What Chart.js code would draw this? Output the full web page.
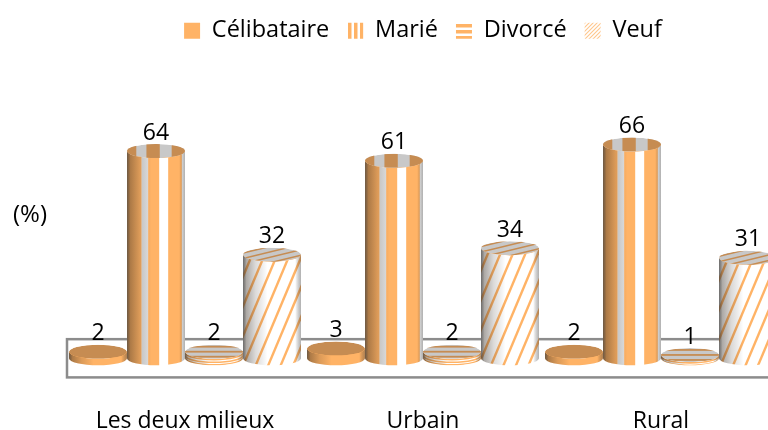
<!DOCTYPE html>
<html><head><meta charset="utf-8">
<script src="https://cdn.jsdelivr.net/npm/chart.js@4"></script>
<style>html,body{margin:0;padding:0;background:#fff;width:768px;height:430px;overflow:hidden}canvas{display:block}</style>
</head><body><canvas id="c" width="848" height="465"></canvas>
<script>
const categories = ["Les deux milieux", "Urbain", "Rural"];
const seriesNames = ["Célibataire", "Marié", "Divorcé", "Veuf"];
const celibataire = [2, 3, 2];
const marie = [64, 61, 66];
const divorce = [2, 2, 1];
const veuf = [32, 34, 31];
const unitLabel = "(%)";

const ORANGE = "#FFB366", BROWN = "#C68C52", GRAY = "#C8C8C8";
const FONT = "'Open Sans', Lato, sans-serif";

function tile(w, h, draw) {
  const c = document.createElement("canvas"); c.width = w; c.height = h;
  const g = c.getContext("2d"); g.fillStyle = "#fff"; g.fillRect(0, 0, w, h);
  g.fillStyle = ORANGE; g.strokeStyle = ORANGE; draw(g);
  return document.createElement("canvas").getContext("2d").createPattern(c, "repeat");
}
const swatches = [
  ORANGE,
  tile(6, 6, g => g.fillRect(0, 0, 3.5, 6)),
  tile(6, 6, g => g.fillRect(0, 0, 6, 3.5)),
  tile(4, 4, g => { g.globalAlpha = .75; g.lineWidth = 1.1; g.beginPath(); g.moveTo(-1, 1); g.lineTo(1, -1); g.moveTo(-1, 5); g.lineTo(5, -1); g.moveTo(3, 5); g.lineTo(5, 3); g.stroke(); })
];

function sidePath(ctx, x, y, base, rx, ry) {
  ctx.beginPath();
  ctx.moveTo(x - rx, y);
  ctx.lineTo(x - rx, base);
  ctx.ellipse(x, base, rx, ry, 0, Math.PI, 0, true);
  ctx.lineTo(x + rx, y);
  ctx.ellipse(x, y, rx, ry, 0, 0, Math.PI, false);
  ctx.closePath();
}

const sideStyles = [
  (ctx, x, y, base, rx, ry) => { ctx.fillStyle = ORANGE; ctx.fillRect(x - rx - 1, y - ry, 2 * rx + 2, base - y + 2 * ry + 2); },
  (ctx, x, y, base, rx, ry) => {
    const w = 2 * rx, top = y - ry, h = base - y + 2 * ry + 2, l = x - rx;
    ctx.fillStyle = "#fff"; ctx.fillRect(l - 1, top, w + 2, h);
    ctx.fillStyle = "#E2E2E2"; ctx.fillRect(l + w * .25, top, w * .115, h);
    ctx.fillStyle = ORANGE;
    [[0, .25], [.365, .555], [.71, .945]].forEach(([a, b]) => ctx.fillRect(l + w * a, top, w * (b - a), h));
  },
  (ctx, x, y, base, rx, ry) => {
    ctx.fillStyle = "#fff"; ctx.fillRect(x - rx - 1, y - ry, 2 * rx + 2, base - y + 2 * ry + 2);
    ctx.strokeStyle = ORANGE; ctx.lineWidth = 1.6;
    for (let k = 0; k < 6; k++) {
      ctx.beginPath(); ctx.ellipse(x, y + 2.6 * k + .8, rx, ry, 0, 0, Math.PI); ctx.stroke();
    }
  },
  (ctx, x, y, base, rx, ry) => {
    ctx.fillStyle = "#fff"; ctx.fillRect(x - rx - 1, y - ry, 2 * rx + 2, base - y + 2 * ry + 2);
    ctx.strokeStyle = ORANGE; ctx.lineWidth = 2.4;
    const span = base - y + 2 * ry + 4, run = span * .42;
    for (let dx = -run - 12; dx < 2 * rx + 12; dx += 12.5) {
      ctx.beginPath();
      ctx.moveTo(x - rx + dx, base + ry + 2);
      ctx.lineTo(x - rx + dx + run, y - ry - 2);
      ctx.stroke();
    }
  }
];

const topStyles = [
  (ctx, x, y, rx, ry) => { ctx.fillStyle = BROWN; ctx.fill(); },
  (ctx, x, y, rx, ry) => {
    ctx.fillStyle = GRAY; ctx.fill(); ctx.fillStyle = BROWN;
    const w = 2 * rx, l = x - rx;
    [[0, .16], [.335, .565], [.77, 1]].forEach(([a, b]) => ctx.fillRect(l + w * a, y - ry, w * (b - a), 2 * ry));
  },
  (ctx, x, y, rx, ry) => {
    ctx.fillStyle = GRAY; ctx.fill(); ctx.fillStyle = BROWN;
    for (let d = -ry + 1; d < ry; d += 5) ctx.fillRect(x - rx, y + d, 2 * rx, 1.8);
  },
  (ctx, x, y, rx, ry) => {
    ctx.fillStyle = GRAY; ctx.fill(); ctx.strokeStyle = BROWN; ctx.lineWidth = 1.5;
    for (let d = -2 * ry; d < 3 * ry; d += 5.4) {
      ctx.beginPath(); ctx.moveTo(x - rx, y + d + 7); ctx.lineTo(x + rx, y + d - 7); ctx.stroke();
    }
  }
];

const cylinders = {
  id: "cylinders",
  beforeDraw(chart) {
    const { ctx, chartArea: a, scales: { y } } = chart;
    ctx.save();
    ctx.strokeStyle = "#8C8C8C"; ctx.lineWidth = 2.5;
    const t = y.getPixelForValue(5.9);
    ctx.strokeRect(a.left + 1, t, a.right - a.left, a.bottom - t);
    ctx.fillStyle = "#000"; ctx.font = "24px " + FONT;
    ctx.textAlign = "left"; ctx.textBaseline = "middle";
    ctx.fillText(unitLabel, 13, (a.top + a.bottom) / 2);
    ctx.restore();
  },
  afterDatasetsDraw(chart) {
    const { ctx } = chart, ry = 7;
    ctx.save();
    chart.data.datasets.forEach((ds, i) => {
      chart.getDatasetMeta(i).data.forEach((el, j) => {
        const { x, y, base, width } = el.getProps(["x", "y", "base", "width"], true);
        const rx = width / 2;
        ctx.save();
        sidePath(ctx, x, y, base, rx, ry); ctx.clip();
        sideStyles[i](ctx, x, y, base, rx, ry);
        const g = ctx.createLinearGradient(x - rx, 0, x + rx, 0);
        g.addColorStop(0, "rgba(60,60,60,.75)");
        g.addColorStop(.06, "rgba(40,30,20,.38)");
        g.addColorStop(.22, "rgba(40,30,20,.16)");
        g.addColorStop(.42, "rgba(0,0,0,0)");
        g.addColorStop(.90, "rgba(0,0,0,0)");
        g.addColorStop(1, "rgba(60,60,60,.40)");
        ctx.fillStyle = g; ctx.fillRect(x - rx - 1, y - ry, width + 2, base - y + 2 * ry + 2);
        ctx.restore();
        ctx.save();
        ctx.beginPath(); ctx.ellipse(x, y, rx, ry, 0, 0, 2 * Math.PI); ctx.clip();
        topStyles[i](ctx, x, y, rx, ry);
        ctx.restore();
      });
    });
    ctx.fillStyle = "#000"; ctx.font = "23px " + FONT;
    ctx.textAlign = "center"; ctx.textBaseline = "middle";
    chart.data.datasets.forEach((ds, i) => {
      chart.getDatasetMeta(i).data.forEach((el, j) => ctx.fillText(String(ds.data[j]), el.x, el.y - 18));
    });
    ctx.restore();
  }
};

new Chart(document.getElementById("c"), {
  type: "bar",
  data: {
    labels: categories,
    datasets: [celibataire, marie, divorce, veuf].map((d, i) => ({
      label: seriesNames[i], data: d, backgroundColor: ORANGE, borderWidth: 0
    }))
  },
  options: {
    responsive: false, animation: false,
    layout: { padding: { left: 66, right: 68, top: 1, bottom: 0 } },
    datasets: { bar: { barPercentage: 1, categoryPercentage: 232 / 238 } },
    scales: {
      x: { grid: { display: false, drawTicks: false }, border: { display: false },
           ticks: { color: "#000", font: { family: FONT, size: 23 }, padding: 30, maxRotation: 0 } },
      y: { display: false, min: -5.9, max: 94.4 }
    },
    plugins: {
      tooltip: { enabled: false },
      legend: {
        position: "top",
        labels: {
          color: "#000", font: { family: FONT, size: 23.5 }, boxWidth: 16, boxHeight: 16, padding: 18,
          generateLabels: chart => chart.data.datasets.map((ds, i) => ({
            text: ds.label, fillStyle: swatches[i], strokeStyle: "rgba(0,0,0,0)", lineWidth: 0, datasetIndex: i, fontColor: "#000"
          }))
        }
      }
    }
  },
  plugins: [cylinders]
});
</script></body></html>
